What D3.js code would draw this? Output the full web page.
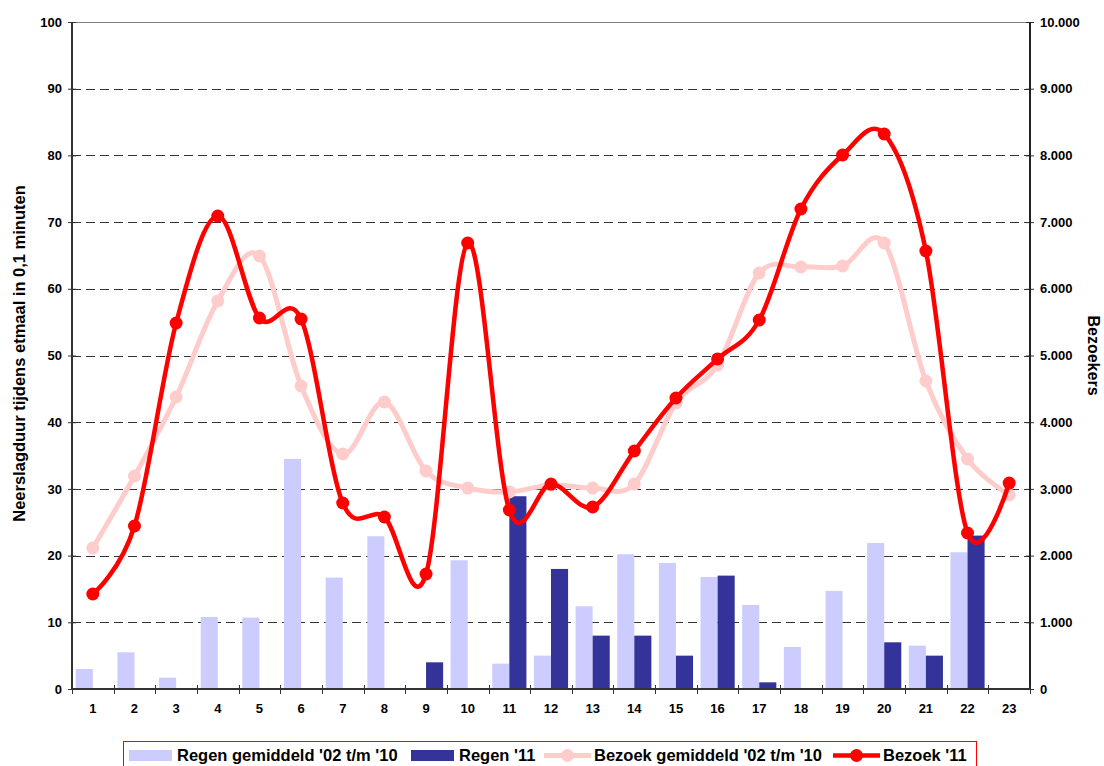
<!DOCTYPE html>
<html>
<head>
<meta charset="utf-8">
<script src="https://cdn.jsdelivr.net/npm/d3@7"></script>
<style>
  html, body { margin: 0; padding: 0; background: #fff; }
  svg { display: block; font-family: "Liberation Sans", Arial, sans-serif; font-weight: bold; }
</style>
</head>
<body>
<svg id="chart" width="1104" height="766"></svg>
<script>
// Hours of the day (etmaal)
const hours = ["1","2","3","4","5","6","7","8","9","10","11","12","13","14","15","16","17","18","19","20","21","22","23"];

// Rain duration (0,1 minutes) – average 2002 t/m 2010
const regenGemiddeld = [3.0, 5.5, 1.7, 10.8, 10.7, 34.5, 16.7, 22.9, 0, 19.3, 3.8, 5.0, 12.4, 20.2, 18.9, 16.8, 12.6, 6.3, 14.7, 21.9, 6.5, 20.5, 0];
// Rain duration (0,1 minutes) – 2011
const regen11 = [0, 0, 0, 0, 0, 0, 0, 0, 4.0, 0, 28.9, 18.0, 8.0, 8.0, 5.0, 17.0, 1.0, 0, 0, 7.0, 5.0, 23.0, 0];

// Visitors – average 2002 t/m 2010
const bezoekGemiddeld = [2114, 3193, 4378, 5817, 6492, 4543, 3523, 4303, 3268, 3013, 2954, 3060, 3013, 3073, 4288, 4858, 6237, 6327, 6342, 6687, 4618, 3448, 2909];
// Visitors – 2011
const bezoek11 = [1424, 2444, 5487, 7091, 5562, 5547, 2789, 2579, 1724, 6687, 2684, 3073, 2729, 3568, 4363, 4948, 5532, 7196, 8006, 8321, 6567, 2339, 3088];

const leftTicks = [0, 10, 20, 30, 40, 50, 60, 70, 80, 90, 100];
const rightTicks = [0, 1000, 2000, 3000, 4000, 5000, 6000, 7000, 8000, 9000, 10000];

const legendLabels = ["Regen gemiddeld '02 t/m '10", "Regen '11", "Bezoek gemiddeld '02 t/m '10", "Bezoek '11"];

const colors = { regenGem: "#ccccff", regen11: "#333399", bezoekGem: "#ffcccc", bezoek11: "#ff0000" };

const nl = d3.formatLocale({ decimal: ",", thousands: ".", grouping: [3], currency: ["€", ""] });
const fmtThousands = nl.format(",");

const svg = d3.select("#chart");
const plot = { left: 72, right: 1030, top: 22, bottom: 689 };

const x = d3.scaleBand().domain(hours).range([plot.left, plot.right]).padding(0);
const yL = d3.scaleLinear().domain([0, 100]).range([plot.bottom, plot.top]);
const yR = d3.scaleLinear().domain([0, 10000]).range([plot.bottom, plot.top]);

const bw = x.bandwidth();
const barW = bw * 0.41;
const barOff = bw * 0.09;

// Horizontal gridlines (dashed), top border solid
svg.append("g").selectAll("line")
  .data(leftTicks.filter(d => d > 0))
  .join("line")
  .attr("x1", plot.left).attr("x2", plot.right)
  .attr("y1", d => Math.round(yL(d)) + 0.5).attr("y2", d => Math.round(yL(d)) + 0.5)
  .attr("stroke", d => d === 100 ? "#808080" : "#333")
  .attr("stroke-width", 1)
  .attr("stroke-dasharray", d => d === 100 ? null : "9,5");

// Bars
const bars = svg.append("g");
bars.selectAll("rect.gem")
  .data(hours.map((h, i) => ({ h, v: regenGemiddeld[i] })))
  .join("rect")
  .attr("class", "gem")
  .attr("x", d => x(d.h) + barOff)
  .attr("width", barW)
  .attr("y", d => yL(d.v))
  .attr("height", d => yL(0) - yL(d.v))
  .attr("fill", colors.regenGem);
bars.selectAll("rect.r11")
  .data(hours.map((h, i) => ({ h, v: regen11[i] })))
  .join("rect")
  .attr("class", "r11")
  .attr("x", d => x(d.h) + barOff + barW)
  .attr("width", barW)
  .attr("y", d => yL(d.v))
  .attr("height", d => yL(0) - yL(d.v))
  .attr("fill", colors.regen11);

// Left axis
const axL = svg.append("g").attr("transform", `translate(${plot.left},0)`)
  .call(d3.axisLeft(yL).tickValues(leftTicks).tickSize(4).tickPadding(6));
axL.select(".domain").remove();
axL.selectAll(".tick line").attr("x2", -4).attr("x1", 4).attr("stroke", "#333");
axL.selectAll(".tick text").attr("font-size", 13).attr("font-weight", "bold").attr("fill", "#000")
  .attr("font-family", "Liberation Sans, Arial, sans-serif").attr("x", -10);
svg.append("line").attr("x1", plot.left).attr("x2", plot.left).attr("y1", plot.top).attr("y2", plot.bottom)
  .attr("stroke", "#333").attr("stroke-width", 2);

// Right axis
const axR = svg.append("g").attr("transform", `translate(${plot.right},0)`)
  .call(d3.axisRight(yR).tickValues(rightTicks).tickFormat(fmtThousands).tickSize(4).tickPadding(6));
axR.select(".domain").remove();
axR.selectAll(".tick line").attr("x1", -4).attr("x2", 4).attr("stroke", "#333");
axR.selectAll(".tick text").attr("font-size", 13).attr("font-weight", "bold").attr("fill", "#000")
  .attr("font-family", "Liberation Sans, Arial, sans-serif").attr("x", 10);
svg.append("line").attr("x1", plot.right).attr("x2", plot.right).attr("y1", plot.top).attr("y2", plot.bottom)
  .attr("stroke", "#222").attr("stroke-width", 2);

// Bottom axis
const axB = svg.append("g").attr("transform", `translate(0,${plot.bottom})`)
  .call(d3.axisBottom(x).tickSize(0).tickPadding(15));
axB.select(".domain").remove();
axB.selectAll(".tick text").attr("font-size", 13).attr("font-weight", "bold").attr("fill", "#000")
  .attr("font-family", "Liberation Sans, Arial, sans-serif");
svg.append("g").selectAll("line")
  .data(hours.concat(["end"]))
  .join("line")
  .attr("x1", (d, i) => Math.round(plot.left + i * bw) + 0.5)
  .attr("x2", (d, i) => Math.round(plot.left + i * bw) + 0.5)
  .attr("y1", plot.bottom - 4).attr("y2", plot.bottom + 5)
  .attr("stroke", "#333");
svg.append("line").attr("x1", plot.left).attr("x2", plot.right).attr("y1", plot.bottom).attr("y2", plot.bottom)
  .attr("stroke", "#333").attr("stroke-width", 2);

// Visitor lines
const cx = h => x(h) + bw / 2;
const line = d3.line().curve(d3.curveCardinal.tension(0)).x(d => cx(d.h)).y(d => yR(d.v));

function drawSeries(values, color, width, r) {
  const data = hours.map((h, i) => ({ h, v: values[i] }));
  const g = svg.append("g");
  g.append("path").datum(data).attr("d", line)
    .attr("fill", "none").attr("stroke", color).attr("stroke-width", width)
    .attr("stroke-linejoin", "round").attr("stroke-linecap", "round");
  g.selectAll("circle").data(data).join("circle")
    .attr("cx", d => cx(d.h)).attr("cy", d => yR(d.v)).attr("r", r).attr("fill", color);
}
drawSeries(bezoekGemiddeld, colors.bezoekGem, 5, 6.5);
drawSeries(bezoek11, colors.bezoek11, 4.5, 6.5);

// Axis titles
svg.append("text")
  .attr("transform", `translate(25,${(plot.top + plot.bottom) / 2 - 2}) rotate(-90)`)
  .attr("text-anchor", "middle").attr("font-size", 16.5).attr("fill", "#000")
  .text("Neerslagduur tijdens etmaal in 0,1 minuten");
svg.append("text")
  .attr("transform", `translate(1088,${(plot.top + plot.bottom) / 2}) rotate(90)`)
  .attr("text-anchor", "middle").attr("font-size", 16).attr("fill", "#000")
  .text("Bezoekers");

// Legend
const lg = svg.append("g");
lg.append("rect").attr("x", 123.5).attr("y", 741.5).attr("width", 853).attr("height", 34)
  .attr("fill", "#fff").attr("stroke", "#ff0000").attr("stroke-width", 1);
const ly = 755.5;
const legendItems = [
  { type: "bar", color: colors.regenGem, sx: 129, sw: 43, tx: 177 },
  { type: "bar", color: colors.regen11, sx: 411, sw: 43, tx: 459 },
  { type: "line", color: colors.bezoekGem, sx: 544, sw: 47, tx: 594, w: 5 },
  { type: "line", color: colors.bezoek11, sx: 833, sw: 47, tx: 883, w: 4.5 }
];
legendItems.forEach((it, i) => {
  if (it.type === "bar") {
    lg.append("rect").attr("x", it.sx).attr("y", ly - 5.5).attr("width", it.sw).attr("height", 11).attr("fill", it.color);
  } else {
    lg.append("line").attr("x1", it.sx).attr("x2", it.sx + it.sw).attr("y1", ly).attr("y2", ly)
      .attr("stroke", it.color).attr("stroke-width", it.w);
    lg.append("circle").attr("cx", it.sx + it.sw / 2).attr("cy", ly).attr("r", 6.5).attr("fill", it.color);
  }
  lg.append("text").attr("x", it.tx).attr("y", ly).attr("dy", "0.36em")
    .attr("font-size", 16.5).attr("fill", "#000").text(legendLabels[i]);
});
</script>
</body>
</html>
